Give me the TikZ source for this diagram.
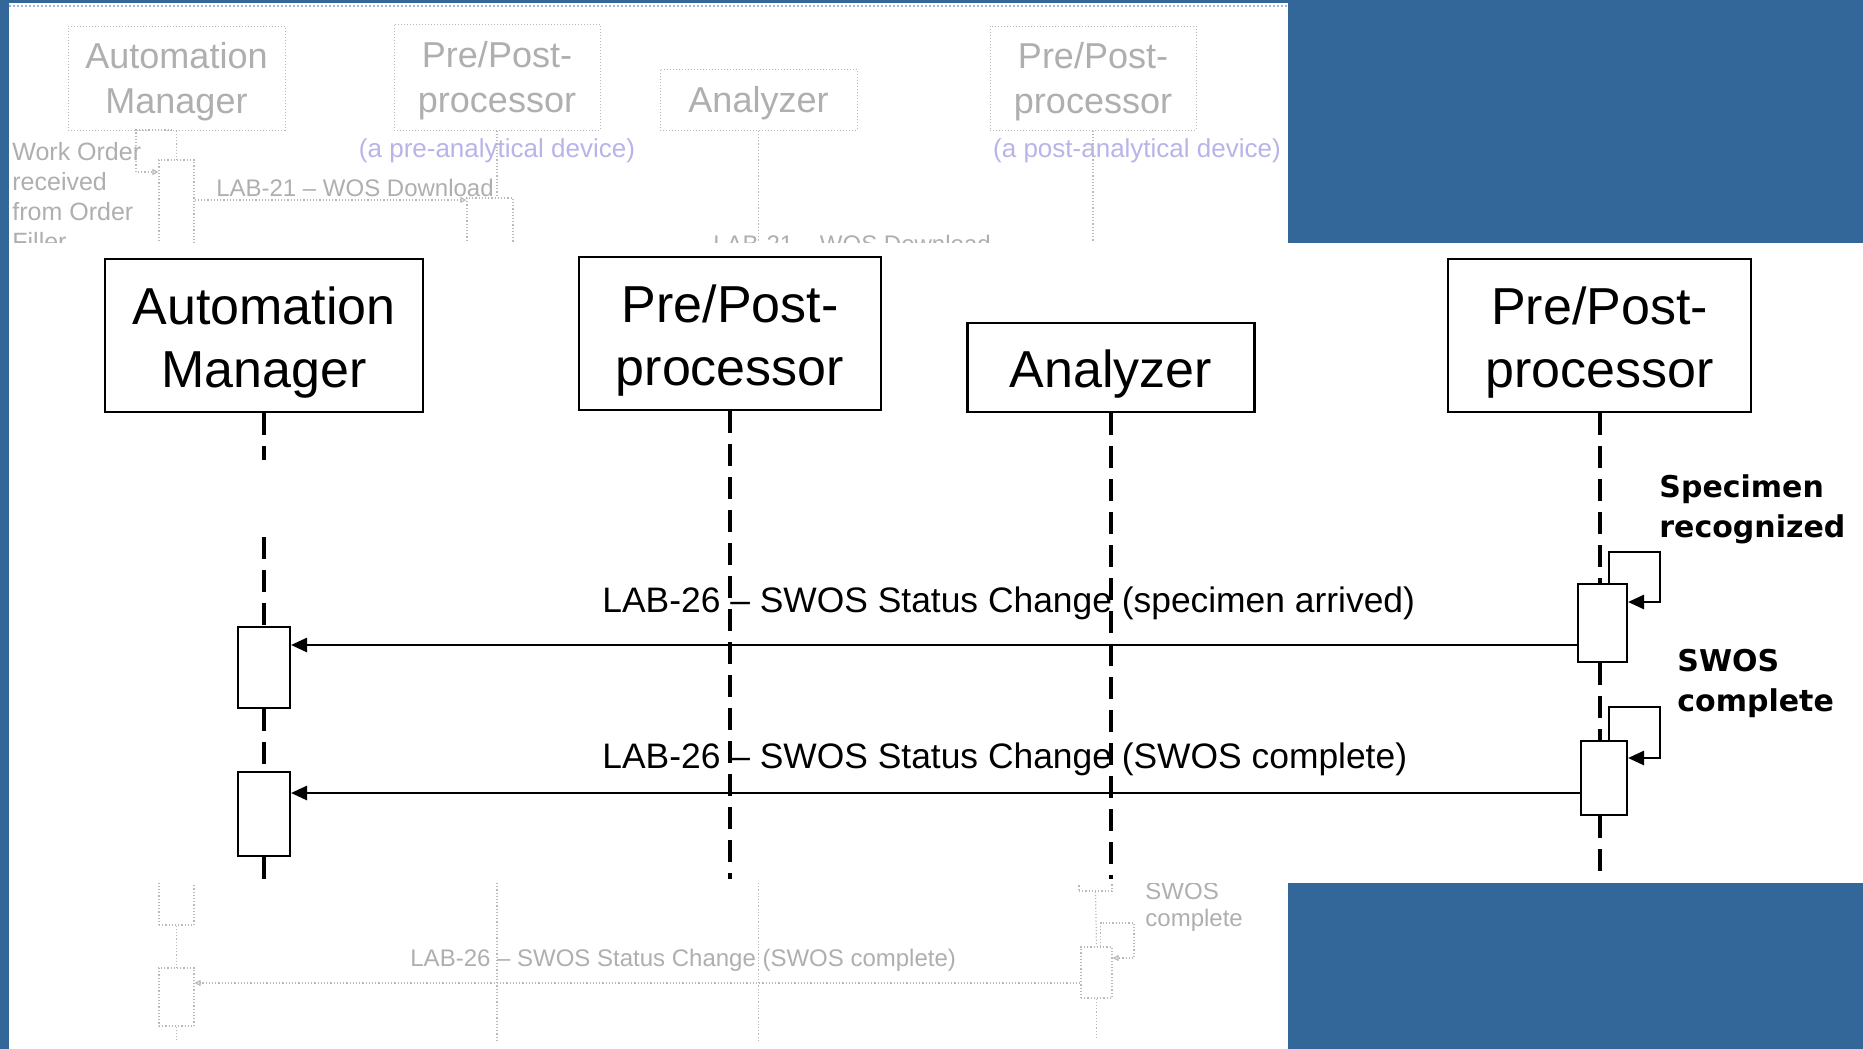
\documentclass[tikz,border=0pt]{standalone}
\usepackage{fontspec}
\setmainfont{Liberation Sans}
\newfontfamily\notefont{DejaVu Sans Bold}
\usetikzlibrary{arrows.meta}
\definecolor{slideblue}{RGB}{51,103,153}
\definecolor{fadegray}{RGB}{185,185,185}
\definecolor{fadetext}{RGB}{175,175,175}
\definecolor{fadepurple}{RGB}{185,180,232}
\definecolor{fadeblue}{RGB}{160,180,220}
\begin{document}
\begin{tikzpicture}[x=0.5pt,y=-0.5pt,
  actor/.style={draw, line width=1.2pt, fill=white, inner sep=0pt},
  actortext/.style={inner sep=0pt, align=center, font=\fontsize{26}{31.5}\selectfont},
  lifeline/.style={line width=2pt, dash pattern=on 11pt off 5.5pt},
  actbar/.style={draw, line width=1pt, fill=white, inner sep=0pt},
  msg/.style={line width=1.3pt, -{Triangle[length=8pt,width=7pt]}},
  msglabel/.style={font=\fontsize{17.7}{21}\selectfont, anchor=base west, inner sep=0pt},
  note/.style={font=\notefont\fontsize{15}{20}\selectfont, align=left, anchor=north west, inner sep=0pt},
  factor/.style={draw=fadegray, densely dotted, line width=0.5pt, inner sep=0pt},
  factortext/.style={inner sep=0pt, align=center, text=fadetext, font=\fontsize{18}{22.5}\selectfont},
  fline/.style={draw=fadegray, densely dotted, line width=0.6pt},
  fbar/.style={draw=fadegray, densely dotted, line width=0.6pt, fill=white, inner sep=0pt},
  fmsg/.style={fline, -{Triangle[length=3pt,width=3pt,open]}},
  ftext/.style={text=fadetext, inner sep=0pt, font=\fontsize{12}{15}\selectfont},
]
\useasboundingbox (0,0) rectangle (1863,1049);
\fill[white] (0,0) rectangle (1863,1049);

% ---------- faded background diagram (top) ----------
\draw[fadeblue, densely dotted, line width=1pt] (9,6) -- (1288,6);
\node[factor, minimum width=108.5pt, minimum height=52pt] (fam) at (176.5,78) {};
\node[factor, minimum width=103pt, minimum height=53pt] (fpp1) at (497,77) {};
\node[factor, minimum width=98.5pt, minimum height=30.5pt] (fan) at (758.5,99.5) {};
\node[factor, minimum width=103pt, minimum height=52pt] (fpp2) at (1093,78) {};
\node[factortext] (famt) at ([yshift=-2pt]fam.center) {Automation\\Manager};
\node[factortext] (fpp1t) at ([yshift=-2pt]fpp1.center) {Pre/Post-\\processor};
\node[factortext] (fant) at ([yshift=-2pt]fan.center) {Analyzer};
\node[factortext] (fpp2t) at ([yshift=-2pt]fpp2.center) {Pre/Post-\\processor};
\node[ftext, text=fadepurple, font=\fontsize{13}{15}\selectfont] (fpre) at (497,151) {(a pre-analytical device)};
\node[ftext, text=fadepurple, font=\fontsize{13}{15}\selectfont] (fpost) at (1137,151) {(a post-analytical device)};
\node[ftext, align=left, anchor=west, font=\fontsize{12.5}{15}\selectfont] (fwo) at (12,197) {Work Order\\received\\from Order\\Filler};
\node[fbar, minimum width=17.5pt, minimum height=45pt] (fab1) at (176.5,205) {};
\node[fbar, minimum width=23pt, minimum height=26pt] (fpb1) at (490,224) {};
\coordinate (ftopend) at (0,250);
\coordinate (fm1) at (0,200);
\coordinate (fwostart) at (172,130);
\coordinate (fwo1) at (0,172);
\draw[fline] (fam.south) -- (fab1.north);
\draw[fline] (fpp1.south) -- (fpp1.south |- fpb1.north);
\draw[fline] (fan.south) -- (fan.south |- ftopend);
\draw[fline] (fpp2.south) -- (fpp2.south |- ftopend);
\draw[fmsg] (fwostart) -| (136,172) -- (fab1.west |- fwo1);
\draw[fmsg] (fab1.east |- fm1) -- (fpb1.west |- fm1);
\node[ftext] (fl21a) at (355,188) {LAB-21 -- WOS Download};
\node[ftext, anchor=base] (fl21b) at (852,252) {LAB-21 -- WOS Download};

% ---------- faded background diagram (bottom) ----------
\coordinate (fbotend) at (0,1040);
\coordinate (fbottop) at (0,883);
\coordinate (fm2) at (0,983);
\node[fbar, minimum width=17.5pt, minimum height=27.5pt] (fab2) at (176.5,897.5) {};
\node[fbar, minimum width=17.5pt, minimum height=29pt] (fab3) at (176.5,997) {};
\draw[fline] (fab2.south) -- (fab3.north);
\draw[fline] (fab3.south) -- (fab3.south |- fbotend);
\draw[fline] (fpp1.south |- fbottop) -- (fpp1.south |- fbotend);
\draw[fline] (fan.south |- fbottop) -- (fan.south |- fbotend);
\node[fbar, minimum width=16.5pt, minimum height=10.5pt] (fpb2) at (1095.5,880.5) {};
\node[fbar, minimum width=15.5pt, minimum height=25.5pt] (fpb3) at (1096.5,972.5) {};
\draw[fline] (fpb2.south) -- (fpb3.north);
\draw[fline] (fpb3.south) -- (fpb3.south |- fbotend);
\draw[fmsg] ([xshift=2pt]fpb3.north) |- (1134,923) |- ([yshift=7.25pt]fpb3.east);
\draw[fmsg] (fpb3.west |- fm2) -- (fab3.east |- fm2);
\node[ftext, anchor=base west] (fl26) at (410,966) {LAB-26 -- SWOS Status Change (SWOS complete)};
\node[ftext, align=left, anchor=west, font=\fontsize{12}{13.5}\selectfont] (fswos) at (1145,907) {SWOS\\complete};

% ---------- panels ----------
\fill[white] (9,243) rectangle (1863,883);
\fill[slideblue] (0,0) rectangle (9,1049);
\fill[slideblue] (0,0) rectangle (1288,3);
\fill[slideblue] (1288,0) rectangle (1863,243);
\fill[slideblue] (1288,883) rectangle (1863,1049);

% ---------- foreground diagram ----------
\node[actor, minimum width=159pt, minimum height=76.5pt] (am) at (264,335.5) {};
\node[actor, minimum width=151pt, minimum height=76.5pt] (pp1) at (730,333.5) {};
\node[actor, minimum width=143.5pt, minimum height=44.5pt] (an) at (1111,367.5) {};
\node[actor, minimum width=151.5pt, minimum height=76.5pt] (pp2) at (1599.5,335.5) {};
\node[actortext] (amt) at ([yshift=-3.5pt]am.center) {Automation\\Manager};
\node[actortext] (pp1t) at ([yshift=-3.5pt]pp1.center) {Pre/Post-\\processor};
\node[actortext] (ant) at ([yshift=-3.5pt]an.center) {Analyzer};
\node[actortext] (pp2t) at ([yshift=-3.5pt]pp2.center) {Pre/Post-\\processor};

\node[actbar, minimum width=26pt, minimum height=40.5pt] (ab1) at (264,667.5) {};
\node[actbar, minimum width=26pt, minimum height=42pt] (ab2) at (264,814) {};
\node[actbar, minimum width=24.5pt, minimum height=39pt] (pb1) at (1602.5,623) {};
\node[actbar, minimum width=23pt, minimum height=37pt] (pb2) at (1604,778) {};

\node[msglabel] (l1) at (602,612) {LAB-26 -- SWOS Status Change (specimen arrived)};
\node[msglabel] (l2) at (602,768) {LAB-26 -- SWOS Status Change (SWOS complete)};

\coordinate (amgap) at (264,460);
\coordinate (amres) at (264,537);
\coordinate (llend) at (0,879);
\draw[lifeline] (am.south) -- (amgap);
\draw[lifeline] (amres) -- (ab1.north);
\draw[lifeline] (ab1.south) -- (ab2.north);
\draw[lifeline] (ab2.south) -- (ab2.south |- llend);
\draw[lifeline] (pp1.south) -- (pp1.south |- llend);
\draw[lifeline] (an.south) -- (an.south |- llend);
\draw[lifeline] (pp2.south) -- (pp2.south |- pb1.north);
\draw[lifeline] (pp2.south |- pb1.south) -- (pp2.south |- pb2.north);
\draw[lifeline] (pp2.south |- pb2.south) -- (pp2.south |- llend);

\coordinate (m1) at (0,645);
\coordinate (m2) at (0,793);
\draw[msg] (pb1.west |- m1) -- (ab1.east |- m1);
\draw[msg] (pb2.west |- m2) -- (ab2.east |- m2);

\draw[msg] ([xshift=3.25pt]pb1.north) |- (1660,552) |- ([yshift=10.5pt]pb1.east);
\draw[msg] ([xshift=2.5pt]pb2.north) |- (1660,707) |- ([yshift=10pt]pb2.east);

\node[note] (n1) at (1659,474) {Specimen\\recognized};
\node[note] (n2) at (1677,649) {SWOS\\complete};
\end{tikzpicture}
\end{document}
